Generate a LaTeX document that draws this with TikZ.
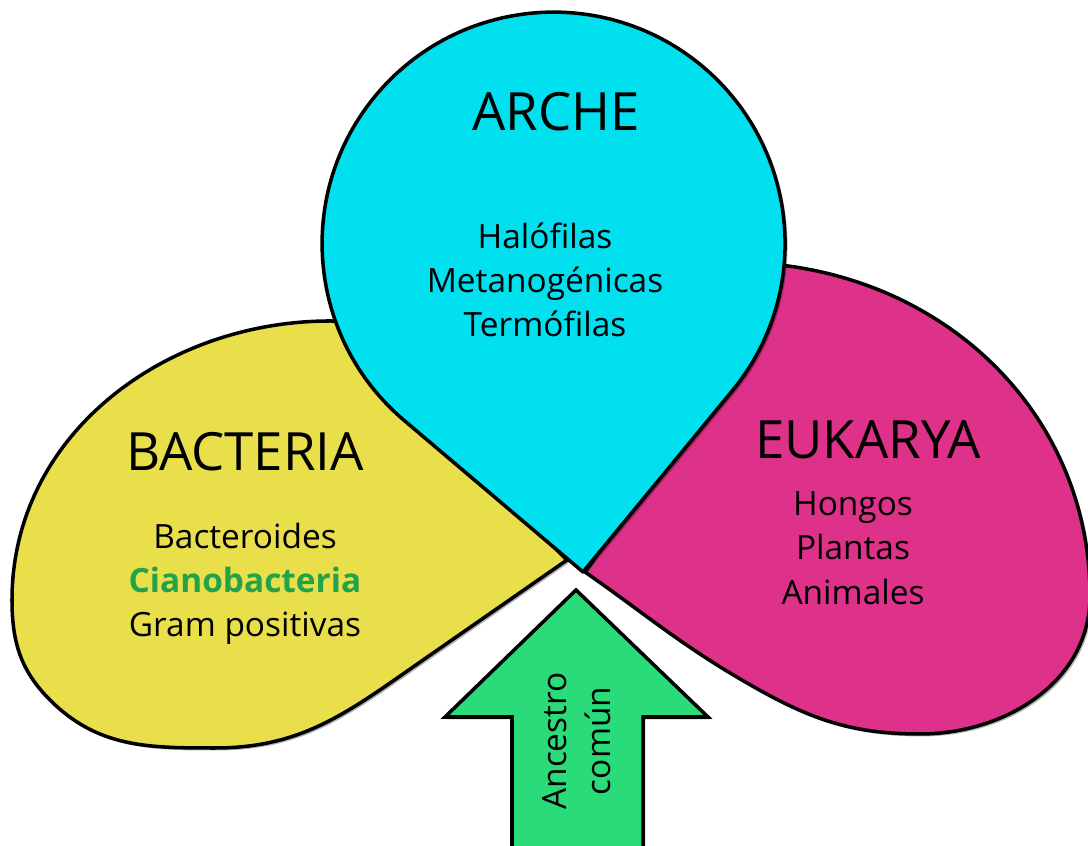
\documentclass[tikz,border=0pt]{standalone}
\usepackage{fontspec}
\setmainfont{Open Sans}
\usepackage{tikz}
\usetikzlibrary{positioning, calc, shadows}
\definecolor{archecyan}{HTML}{00E0EE}
\definecolor{bactyellow}{HTML}{E8DF4A}
\definecolor{eukmagenta}{HTML}{DD318A}
\definecolor{ancgreen}{HTML}{2ADB7A}
\definecolor{cianogreen}{HTML}{22A24A}
\tikzset{
  softshadow/.style={drop shadow={shadow xshift=0.7pt, shadow yshift=-0.7pt,
      opacity=0.3, fill=black}},
  petal/.style={draw=black, line width=1pt, line join=round, softshadow},
  kingdom/.style={font=\fontsize{15}{18}\selectfont, text=black},
  members/.style={align=center, font=\fontsize{9.5}{12.6}\selectfont},
  ancestor/.style={draw=black, line width=1pt, fill=ancgreen, line join=miter, softshadow},
}

\begin{document}
\begin{tikzpicture}[x=0.01cm, y=0.01cm]
  \clip (0,0) rectangle (1088,846);

  % bacteria (left)
  \draw[petal, fill=bactyellow] (567,286) to[out=137,in=0] (330,525)
    to[out=180,in=90] (12,246) to[out=270,in=135] (50,146)
    to[out=-45,in=180] (215,98) to[out=0,in=215] (413,179) -- cycle;

  % eukarya (right)
  \draw[petal, fill=eukmagenta] (585,274) to[out=52,in=175] (770,582)
    to[out=-5,in=90] (1090,250) to[out=-90,in=0] (920,112)
    to[out=180,in=-30] (747,163) to[out=150,in=-35] (585,274) -- cycle;

  % arche (top)
  \draw[petal, fill=archecyan] (583,274) -- (403.9,425.8)
    arc[start angle=229.71, end angle=-39.45, radius=231.5] -- cycle;

  % common ancestor
  \draw[ancestor] (576,256) -- (708,129) -- (643,129) -- (643,-20)
    -- (512,-20) -- (512,129) -- (445,129) -- cycle;

  \node[kingdom] (arche) at (556,734) {ARCHE};
  \node[members] (archelist) at (545,566) {Halófilas\\Metanogénicas\\Termófilas};
  \node[kingdom] (bacteria) at (245,394) {BACTERIA};
  \node[members] (bacterialist) at (245,262)
    {Bacteroides\\\textcolor{cianogreen}{\bfseries Cianobacteria}\\Gram positivas};
  \node[kingdom] (eukarya) at (868,406) {EUKARYA};
  \node[members] (eukaryalist) at (853,298) {Hongos\\Plantas\\Animales};
  \node[members, rotate=90] (ancestro) at (577,105) {Ancestro\\común};

\end{tikzpicture}
\end{document}
